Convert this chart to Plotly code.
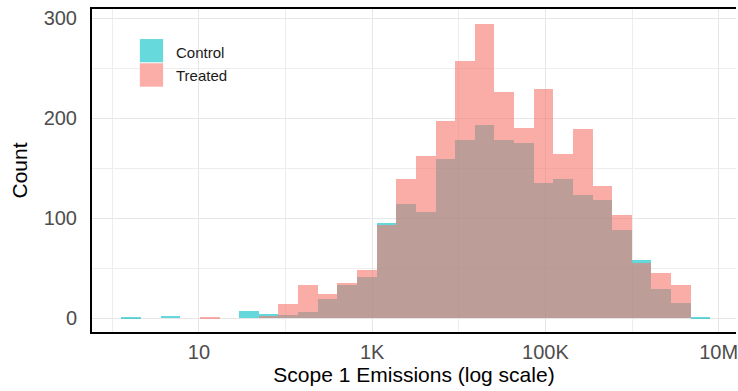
import plotly.graph_objects as go

# Histogram bins are equally spaced in log10(emissions)
log_edge_start = 0.106
log_bin_width = 0.2266

control_counts = [1, 0, 2, 0, 0, 0, 7, 4, 3, 6, 19, 33, 41, 95, 114,
                  106, 159, 178, 193, 178, 175, 135, 139, 123, 118, 88, 58, 29, 15, 1]
treated_counts = [0, 0, 0, 0, 1, 0, 0, 2, 14, 33, 24, 35, 48, 93, 139,
                  162, 197, 257, 294, 226, 190, 229, 164, 189, 132, 103, 55, 45, 33, 0]

x_tick_vals = [1, 3, 5, 7]
x_tick_text = ["10", "1K", "100K", "10M"]
y_tick_vals = [0, 100, 200, 300]

groups = ["Control", "Treated"]
group_colors = ["#00BFC4", "#F8766D"]
alpha = 0.6

centers = [log_edge_start + (i + 0.5) * log_bin_width for i in range(len(control_counts))]

fig = go.Figure()
for name, counts, col in zip(groups, [control_counts, treated_counts], group_colors):
    fig.add_trace(go.Bar(
        x=centers, y=counts, width=log_bin_width, name=name,
        marker=dict(color=col, line=dict(width=0)), opacity=alpha,
        showlegend=False,
    ))

FONT = "Liberation Sans, Arial, sans-serif"

# Legend drawn inside the panel (top-left)
def blend(hexcol, a):
    r, g, b = int(hexcol[1:3], 16), int(hexcol[3:5], 16), int(hexcol[5:7], 16)
    return "rgb(%d,%d,%d)" % tuple(round(a * c + (1 - a) * 255) for c in (r, g, b))

key_rows = [(0.835, 0.907, 0.866), (0.7595, 0.832, 0.793)]
shapes = []
annotations = []
for (y0, y1, ty), name, col in zip(key_rows, groups, group_colors):
    shapes.append(dict(type="rect", xref="paper", yref="paper",
                       x0=0.0743, x1=0.1104, y0=y0, y1=y1,
                       fillcolor=blend(col, alpha), line=dict(width=0), layer="above"))
    annotations.append(dict(xref="paper", yref="paper", x=0.127, y=ty,
                            xanchor="left", yanchor="middle", text=name, showarrow=False,
                            font=dict(family=FONT, size=15, color="#1a1a1a")))

fig.update_layout(
    width=738, height=391,
    margin=dict(l=92, r=0, t=9, b=59),
    paper_bgcolor="white", plot_bgcolor="white",
    barmode="overlay", bargap=0,
    shapes=shapes, annotations=annotations,
    font=dict(family=FONT),
)

fig.update_xaxes(
    range=[-0.234, 7.20],
    tickmode="array", tickvals=x_tick_vals, ticktext=x_tick_text,
    tickfont=dict(size=20, color="#4D4D4D"), ticklabeloverflow="allow",
    showgrid=True, gridcolor="#E6E6E6", gridwidth=1.2,
    minor=dict(tickvals=[0, 2, 4, 6], showgrid=True, gridcolor="#EDEDED", gridwidth=0.9),
    zeroline=False, showline=True, linecolor="black", linewidth=2, mirror=True,
    ticks="", ticklabelstandoff=1,
    title=dict(text="Scope 1 Emissions (log scale)", font=dict(size=21, color="black"), standoff=4),
)
fig.update_yaxes(
    range=[-13.7, 309.3],
    tickmode="array", tickvals=y_tick_vals,
    tickfont=dict(size=20, color="#4D4D4D"),
    showgrid=True, gridcolor="#E6E6E6", gridwidth=1.2,
    minor=dict(tickvals=[50, 150, 250], showgrid=True, gridcolor="#EDEDED", gridwidth=0.9),
    zeroline=False, showline=True, linecolor="black", linewidth=2,
    ticks="", ticklabelstandoff=9,
    title=dict(text="Count", font=dict(size=21, color="black"), standoff=10),
)

fig.write_html("out.html")
